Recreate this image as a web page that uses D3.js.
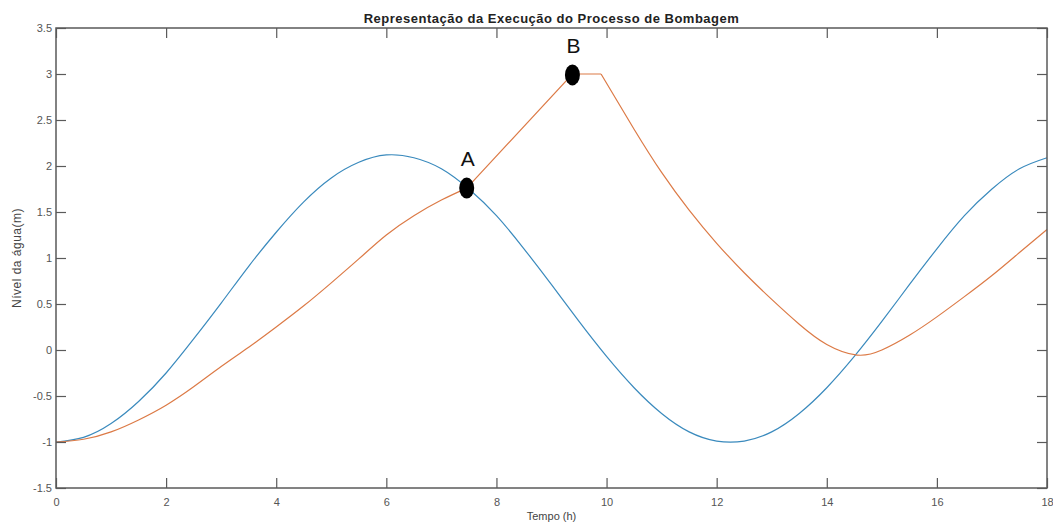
<!DOCTYPE html>
<html>
<head>
<meta charset="utf-8">
<script src="https://cdn.jsdelivr.net/npm/d3@7"></script>
<style>
  body { margin: 0; background: #fff; }
  text { font-family: "Liberation Sans", Arial, sans-serif; }
</style>
</head>
<body>
<div id="chart"></div>
<script>
// tempo (h) e nível (m)
var blueTime  = [0, 0.5, 1, 1.5, 2, 2.5, 3, 3.5, 4, 4.5, 5, 5.5, 6, 6.5, 7, 7.5, 8, 8.5, 9, 9.5,
                 10, 10.5, 11, 11.5, 12, 12.5, 13, 13.5, 14, 14.5, 15, 15.5, 16, 16.5, 17, 17.5, 18];
var blueLevel = [-1.00, -0.95, -0.80, -0.56, -0.25, 0.12, 0.51, 0.91, 1.28, 1.61, 1.87, 2.04, 2.12, 2.09, 1.97, 1.75, 1.46, 1.10, 0.71, 0.31,
                 -0.07, -0.41, -0.69, -0.89, -0.99, -0.99, -0.89, -0.69, -0.41, -0.07, 0.31, 0.71, 1.10, 1.46, 1.75, 1.97, 2.09];

// nível do reservatório: subida natural, bombagem (A -> B), patamar, descida
var riseTime   = [0, 0.5, 1, 1.5, 2, 2.5, 3, 3.5, 4, 4.5, 5, 5.5, 6, 6.5, 7, 7.46];
var riseLevel  = [-1.00, -0.97, -0.89, -0.76, -0.60, -0.40, -0.18, 0.03, 0.25, 0.48, 0.73, 0.99, 1.25, 1.46, 1.63, 1.76];
var pumpTime   = [7.46, 9.38, 9.9];
var pumpLevel  = [1.76, 3.0, 3.0];
var fallTime   = [9.9, 10.5, 11, 11.5, 12, 12.5, 13, 13.5, 14, 14.55, 15, 15.5, 16, 16.5, 17, 17.5, 18];
var fallLevel  = [3.0, 2.40, 1.93, 1.52, 1.16, 0.84, 0.55, 0.28, 0.06, -0.055, 0.0, 0.16, 0.36, 0.58, 0.81, 1.06, 1.31];

var markerNames = ["A", "B"];
var markerTime  = [7.46, 9.38];
var markerLevel = [1.76, 2.99];

var xTicks = [0, 2, 4, 6, 8, 10, 12, 14, 16, 18];
var yTicks = [-1.5, -1, -0.5, 0, 0.5, 1, 1.5, 2, 2.5, 3, 3.5];

var W = 1053, H = 523;
var margin = {left: 56, top: 28, right: 6, bottom: 35};
var iw = W - margin.left - margin.right,
    ih = H - margin.top - margin.bottom;

var svg = d3.select("#chart").append("svg")
    .attr("width", W)
    .attr("height", H);

var x = d3.scaleLinear().domain([0, 18]).range([0, iw]);
var y = d3.scaleLinear().domain([-1.5, 3.5]).range([ih, 0]);

var g = svg.append("g").attr("transform", "translate(" + margin.left + "," + margin.top + ")");

function zip(ts, vs) { return ts.map(function(t, i){ return [t, vs[i]]; }); }

var smooth = d3.line().x(function(d){ return x(d[0]); }).y(function(d){ return y(d[1]); }).curve(d3.curveNatural);
var straight = d3.line().x(function(d){ return x(d[0]); }).y(function(d){ return y(d[1]); });

var blueColor = "#3a8abd", orangeColor = "#dc7a46";

g.append("path").attr("d", smooth(zip(blueTime, blueLevel)))
    .attr("fill", "none").attr("stroke", blueColor).attr("stroke-width", 1.2);

var orange = g.append("g").attr("fill", "none").attr("stroke", orangeColor).attr("stroke-width", 1.2);
orange.append("path").attr("d", smooth(zip(riseTime, riseLevel)));
orange.append("path").attr("d", straight(zip(pumpTime, pumpLevel)));
orange.append("path").attr("d", smooth(zip(fallTime, fallLevel)));

// axes: MATLAB box with inward ticks
var axisColor = "#5a5a5a";
function styleAxis(sel) {
  sel.select(".domain").remove();
  sel.selectAll("line").attr("stroke", axisColor).attr("stroke-width", 1.2);
  sel.selectAll("text").attr("fill", "#555").style("font-size", "11px");
}

g.append("g").attr("transform", "translate(0," + ih + ")")
  .call(d3.axisBottom(x).tickValues(xTicks).tickSizeInner(-10).tickSizeOuter(0).tickPadding(10).tickFormat(d3.format("d")))
  .call(styleAxis);
g.append("g")
  .call(d3.axisTop(x).tickValues(xTicks).tickSizeInner(-10).tickSizeOuter(0).tickFormat(""))
  .call(styleAxis);
g.append("g")
  .call(d3.axisLeft(y).tickValues(yTicks).tickSizeInner(-10).tickSizeOuter(0).tickPadding(4).tickFormat(function(d){ return String(d); }))
  .call(styleAxis);
g.append("g").attr("transform", "translate(" + iw + ",0)")
  .call(d3.axisRight(y).tickValues(yTicks).tickSizeInner(-10).tickSizeOuter(0).tickFormat(""))
  .call(styleAxis);

g.append("rect").attr("width", iw).attr("height", ih)
  .attr("fill", "none").attr("stroke", axisColor).attr("stroke-width", 1.5);

// markers A and B
var marks = g.selectAll(".mark").data(markerNames).enter().append("g").attr("class", "mark");
marks.append("ellipse")
  .attr("cx", function(d, i){ return x(markerTime[i]); })
  .attr("cy", function(d, i){ return y(markerLevel[i]); })
  .attr("rx", 7.5).attr("ry", 10.5)
  .attr("fill", "#000");
marks.append("text")
  .attr("x", function(d, i){ return x(markerTime[i]) + 1; })
  .attr("y", function(d, i){ return y(markerLevel[i]) - 22; })
  .attr("text-anchor", "middle")
  .style("font-size", "21px")
  .attr("fill", "#111")
  .text(function(d){ return d; });

// title and labels
svg.append("text")
  .attr("x", margin.left + iw / 2).attr("y", 23)
  .attr("text-anchor", "middle")
  .style("font-size", "13px").style("font-weight", "bold")
  .style("letter-spacing", "0.5px")
  .attr("fill", "#222")
  .text("Representação da Execução do Processo de Bombagem");

svg.append("text")
  .attr("transform", "translate(21," + (margin.top + ih / 2) + ") rotate(-90)")
  .attr("text-anchor", "middle")
  .style("font-size", "12px")
  .style("letter-spacing", "0.5px")
  .attr("fill", "#444")
  .text("Nível da água(m)");

svg.append("text")
  .attr("x", margin.left + iw / 2).attr("y", 520)
  .attr("text-anchor", "middle")
  .style("font-size", "11px")
  .attr("fill", "#444")
  .text("Tempo (h)");
</script>
</body>
</html>
